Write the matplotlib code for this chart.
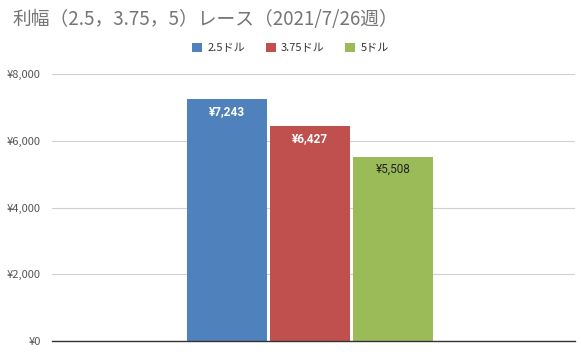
import matplotlib.pyplot as plt
from matplotlib.ticker import FuncFormatter

plt.rcParams['font.family'] = ['Noto Sans CJK JP', 'DejaVu Sans']

title = "利幅（2.5，3.75，5）レース（2021/7/26週）"
series = ["2.5ドル", "3.75ドル", "5ドル"]
values = [7243, 6427, 5508]
colors = ["#4F81BD", "#C0504D", "#9BBB59"]
label_colors = ["white", "white", "#222222"]
label_weights = ["bold", "bold", "normal"]
yticks = [0, 2000, 4000, 6000, 8000]


def main():
	fig = plt.figure(figsize=(5.81, 3.54), dpi=100)
	ax = fig.add_axes([52 / 581, 13 / 354, 523 / 581, 267 / 354])

	step = 1.04
	for i, (name, v, c) in enumerate(zip(series, values, colors)):
		x = (i - 1) * step
		ax.bar(x, v, width=1.0, color=c, label=name, zorder=3)
		ax.text(x, v - 180, "¥{:,}".format(v), ha="center", va="top",
				fontsize=8.5, color=label_colors[i], fontweight=label_weights[i],
				family=['Roboto', 'DejaVu Sans'], zorder=4)

	ax.set_xlim(-3.23, 3.31)
	ax.set_ylim(0, 8000)
	ax.set_yticks(yticks)
	ax.yaxis.set_major_formatter(FuncFormatter(lambda v, p: "¥{:,}".format(int(v))))
	ax.tick_params(axis="y", length=0, labelsize=8, labelcolor="#555555", pad=8)
	ax.set_xticks([])
	ax.grid(axis="y", color="#d0d0d0", linewidth=0.8, zorder=0)
	for s in ("top", "right", "left"):
		ax.spines[s].set_visible(False)
	ax.spines["bottom"].set_color("#333333")
	ax.spines["bottom"].set_linewidth(1.0)
	ax.spines["bottom"].set_zorder(5)

	fig.text(12 / 581, 1 - 20 / 354, title, fontsize=13.5, color="#757575", va="center", ha="left")
	fig.legend(loc="center", bbox_to_anchor=(0.5, 1 - 48 / 354), ncol=3, frameon=False,
			   fontsize=8, handlelength=0.9, handleheight=0.9, handletextpad=0.5,
			   columnspacing=1.8, labelcolor="#333333")

	fig.savefig("out.png", dpi=100)


if __name__ == '__main__':
	main()
